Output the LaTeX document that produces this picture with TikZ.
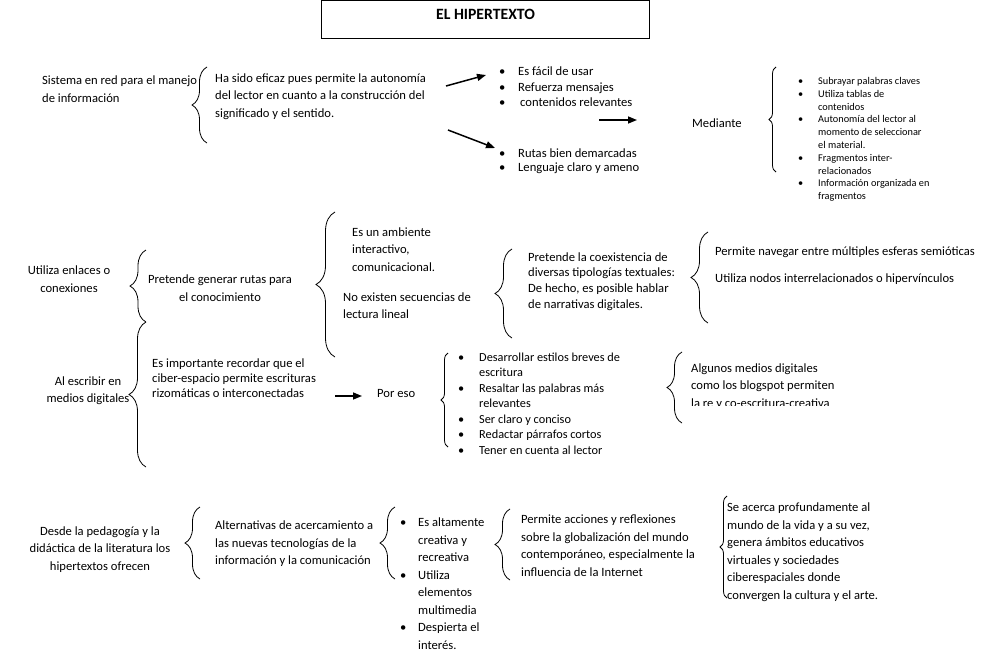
\documentclass[tikz,border=0pt]{standalone}
\usepackage{fontspec}
\setmainfont{Carlito}
\usetikzlibrary{arrows.meta,decorations.pathreplacing}

\newlength{\sangria}
\newcommand{\vin}[1]{\makebox[\sangria][l]{\textbullet}#1}
\newcommand{\sig}[1]{\hspace*{\sangria}#1}

\begin{document}
\begin{tikzpicture}[x=1pt, y=-1pt,
    texto/.style={font=\fontsize{12.6}{17.5}\selectfont, align=left, inner sep=0pt, anchor=west},
    centro/.style={texto, align=center, anchor=center},
    lista/.style={texto, font=\fontsize{12.6}{#1}\selectfont},
    chico/.style={texto, font=\fontsize{10.3}{12.8}\selectfont},
    mediano/.style={texto, font=\fontsize{12.3}{15.5}\selectfont},
    llave/.style={decorate, decoration={brace, amplitude=#1}, line width=0.8pt},
    llave/.default=15,
    flecha/.style={-{Triangle[length=9pt, width=7pt]}, line width=1.5pt}
  ]
  \useasboundingbox (0,0) rectangle (992,659);

  \node[draw, line width=1.2pt, font=\fontsize{15.7}{17}\bfseries, minimum width=328pt,
        inner ysep=0pt, text height=19pt, text depth=19pt] (titulo) at (485.5,19.5) {EL HIPERTEXTO};

  % primera fila
  \node[texto] (sistema) at (42,89) {Sistema en red para el manejo\\de información};
  \node[texto] (eficaz) at (215,96.7) {Ha sido eficaz pues permite la autonomía\\del lector en cuanto a la construcción del\\significado y el sentido.};
  \setlength{\sangria}{19pt}
  \node[lista=15.5] (facil) at (499,86.7) {\vin{Es fácil de usar}\\\vin{Refuerza mensajes}\\\vin{\hspace{2pt}contenidos relevantes}};
  \node[lista=14.5] (rutas) at (499,161) {\vin{Rutas bien demarcadas}\\\vin{Lenguaje claro y ameno}};
  \node[texto] (mediante) at (692,123) {Mediante};
  \setlength{\sangria}{20pt}
  \node[chico] (subrayar) at (798,139.5) {\vin{Subrayar palabras claves}\\\vin{Utiliza tablas de}\\\sig{contenidos}\\\vin{Autonomía del lector al}\\\sig{momento de seleccionar}\\\sig{el material.}\\\vin{Fragmentos inter-}\\\sig{relacionados}\\\vin{Información organizada en}\\\sig{fragmentos}};

  \coordinate (f1a) at (446,86);
  \coordinate (f1b) at (486,75);
  \coordinate (f2a) at (448,130);
  \coordinate (f2b) at (495,148);
  \coordinate (f3a) at (599,120);
  \coordinate (f3b) at (637,120);
  \draw[flecha] (f1a) -- (f1b);
  \draw[flecha] (f2a) -- (f2b);
  \draw[flecha] (f3a) -- (f3b);

  \draw[llave] (207,143) -- (207,67);
  \draw[llave=7] (776,172) -- (776,67);

  % segunda fila
  \node[centro] (enlaces) at (69,279) {Utiliza enlaces o\\conexiones};
  \node[centro] (generar) at (220,288) {Pretende generar rutas para\\el conocimiento};
  \node[texto] (ambiente) at (352,249.5) {Es un ambiente\\interactivo,\\comunicacional.};
  \node[texto] (secuencias) at (343,305.5) {No existen secuencias de\\lectura lineal};
  \node[lista=15.7] (coexistencia) at (528,281.5) {Pretende la coexistencia de\\diversas tipologías textuales:\\De hecho, es posible hablar\\de narrativas digitales.};
  \node[texto] (navegar) at (715,252) {Permite navegar entre múltiples esferas semióticas};
  \node[texto] (nodos) at (715,279) {Utiliza nodos interrelacionados o hipervínculos};

  \draw[llave=16] (146,322) -- (146,250);
  \draw[llave=19] (335,357) -- (335,212);
  \draw[llave=17] (512,338) -- (512,249);
  \draw[llave=17] (708,323) -- (708,232);

  % tercera fila
  \node[centro] (escribir) at (88,390.5) {Al escribir en\\medios digitales};
  \node[lista=15] (recordar) at (152,378) {Es importante recordar que el\\ciber-espacio permite escrituras\\rizomáticas o interconectadas};
  \node[texto] (poreso) at (377,393) {Por eso};
  \setlength{\sangria}{21pt}
  \node[mediano] (estilos) at (458,403.5) {\vin{Desarrollar estilos breves de}\\\sig{escritura}\\\vin{Resaltar las palabras más}\\\sig{relevantes}\\\vin{Ser claro y conciso}\\\vin{Redactar párrafos cortos}\\\vin{Tener en cuenta al lector}};
  \begin{scope}
    \clip (680,340) rectangle (900,405);
    \node[texto] (blogspot) at (691,386.5) {Algunos medios digitales\\como los blogspot permiten\\la re y co-escritura-creativa};
  \end{scope}

  \coordinate (f4a) at (335,396);
  \coordinate (f4b) at (362,396);
  \draw[flecha] (f4a) -- (f4b);

  \draw[llave=17] (146,467) -- (146,322);
  \draw[llave=7] (448,447) -- (448,353);
  \draw[llave] (682,423) -- (682,352);

  % cuarta fila
  \node[centro] (pedagogia) at (100,549.5) {Desde la pedagogía y la\\didáctica de la literatura los\\hipertextos ofrecen};
  \node[texto] (alternativas) at (215,543.7) {Alternativas de acercamiento a\\las nuevas tecnologías de la\\información y la comunicación};
  \setlength{\sangria}{18pt}
  \node[texto] (creativa) at (400,583.5) {\vin{Es altamente}\\\sig{creativa y}\\\sig{recreativa}\\\vin{Utiliza}\\\sig{elementos}\\\sig{multimedia}\\\vin{Despierta el}\\\sig{interés.}};
  \node[texto] (acciones) at (521,545.5) {Permite acciones y reflexiones\\sobre la globalización del mundo\\contemporáneo, especialmente la\\influencia de la Internet};
  \node[texto] (acerca) at (727,552) {Se acerca profundamente al\\mundo de la vida y a su vez,\\genera ámbitos educativos\\virtuales y sociedades\\ciberespaciales donde\\convergen la cultura y el arte.};

  \draw[llave] (200,579) -- (200,507);
  \draw[llave] (395,579) -- (395,507);
  \draw[llave] (510,580) -- (510,509);
  \draw[llave=7] (727,598) -- (727,496);
\end{tikzpicture}
\end{document}
